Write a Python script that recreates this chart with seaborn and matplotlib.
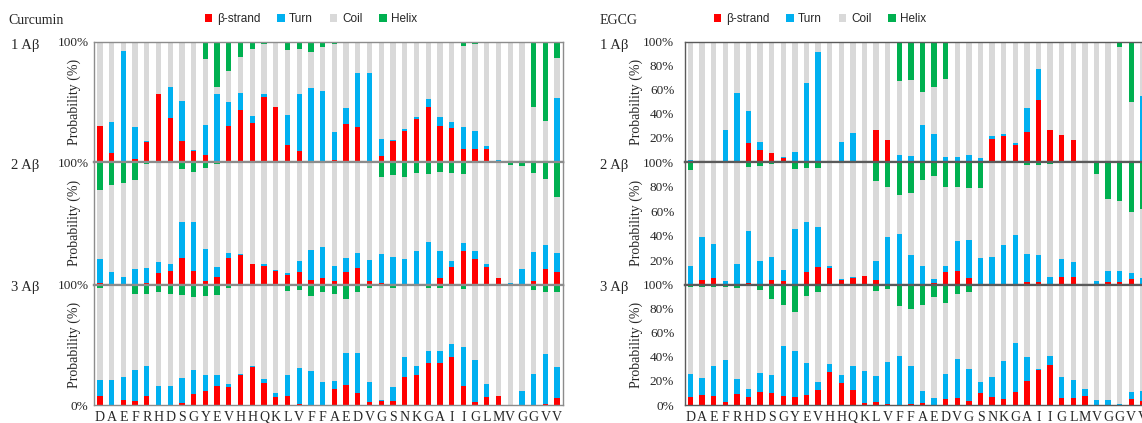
import numpy as np
import pandas as pd
import matplotlib
matplotlib.use("Agg")
import matplotlib.pyplot as plt
from matplotlib.patches import Patch
import seaborn as sns

residues = list("DAEFRHDSGYEVHHQKLVFFAEDVGSNKGAIIGLMVGGVV")

# ---------------- Curcumin ----------------
cur1_strand = [30, 7.5, 0, 2.5, 16.4, 56.5, 37, 17.8, 9.2, 5.6, 0, 29.8, 43.7, 32.3, 53.8, 46, 14.5, 8.9, 0, 0,
               1.4, 32, 29, 0, 5.3, 17.3, 25.6, 35.7, 45.7, 30, 28, 11, 10.6, 10.6, 0, 0, 0, 0, 0, 0]
cur1_turn = [0, 25.5, 92.5, 26.5, 1, 0, 25.7, 33, 1, 25, 57, 20.6, 13.7, 6.1, 2.7, 0, 24.5, 47.4, 62, 59.3,
             23.4, 13, 45.4, 73.8, 13.9, 1.1, 2, 1.9, 6.7, 7.6, 5, 18.5, 15, 2.4, 2, 0, 0, 0, 0, 53]
cur1_helix = [0, 0, 0, 0, 0, 0, 0.5, 0.5, 0.5, 14.5, 37.3, 24.2, 12.5, 6, 2, 0, 7, 6, 8.4, 4,
              1.5, 0.5, 0.5, 0, 0, 0, 0, 0, 0, 0.5, 1, 3, 2, 0.5, 0, 0, 0, 54, 66, 13.4]

cur2_strand = [1, 0.8, 0, 0.5, 1.4, 9.5, 10.9, 21.5, 11, 2.7, 6.3, 21.5, 24.2, 16.6, 15.2, 11, 7.9, 10.6, 3.3, 4.9,
               3, 10.3, 13.6, 3, 1, 0.8, 0.5, 0, 0.5, 4.9, 14.4, 27.7, 20.7, 14.1, 5.2, 0, 0, 3, 12.5, 9.8]
cur2_turn = [20, 9.2, 6, 12, 12.2, 9, 5.9, 29.5, 40.4, 26.6, 7.7, 4, 0.5, 0, 1.4, 1, 1.3, 8.7, 24.7, 26.1,
             11.7, 11.4, 12.4, 17.4, 23.5, 21.5, 20.2, 27.2, 34, 22.5, 4.4, 6.5, 6.7, 2.7, 0, 1.4, 13, 23.6, 20.1, 15.7]
cur2_helix = [22.6, 18.5, 17.1, 14.7, 2, 0, 0, 5.4, 8.2, 5.2, 1.4, 0, 0, 0, 0, 0, 0, 0, 0, 0,
              0, 0, 0.5, 0, 12, 10.3, 12.5, 8.7, 9.5, 8.2, 9.2, 9.8, 0, 0, 0, 2.5, 3, 8.7, 14, 28.5]

cur3_strand = [7.5, 0, 4.1, 3.3, 7.2, 0, 0, 1.4, 8.8, 11.3, 16, 15.2, 24.9, 31.5, 18.2, 6.6, 7.2, 0.5, 0, 0,
               13.5, 16.9, 10, 2.2, 3.3, 3.6, 23, 25, 34.5, 35, 40, 16, 2.8, 6.4, 7.7, 0, 0, 0, 1, 5.5]
cur3_turn = [12.9, 21, 19.1, 25.4, 24.8, 16, 16, 20.6, 19.9, 13.7, 9, 2.5, 1.1, 1.1, 3.6, 3.6, 17.8, 29.9, 28.2, 18.8,
             6.4, 26.5, 33, 17.1, 1.1, 11.4, 16.5, 7.3, 10.5, 10, 10.8, 32, 34.2, 10.7, 0, 0, 11.9, 26, 41.5, 26]
cur3_helix = [3, 1, 0.5, 8, 7.7, 6.6, 7.5, 9, 10, 9.7, 8.3, 2.5, 0, 0, 0, 0, 5.2, 4.7, 9.7, 6.4,
              7.5, 12.2, 6.6, 2.8, 0.5, 2.8, 0.5, 0, 3.3, 3.3, 0, 4.1, 0.5, 0, 0, 0, 0, 4.4, 6, 6.3]

# ---------------- EGCG ----------------
egc1_strand = [0, 0, 0, 0, 0, 16, 10, 7.6, 3.6, 0, 0, 0, 0, 0, 0, 0, 26.6, 18.7, 0, 0,
               0, 0, 0, 0, 0, 0, 19.5, 22, 14.2, 25, 51.8, 27, 22.8, 18.1, 0, 0, 0, 0, 0, 0]
egc1_turn = [2, 0, 0, 26.6, 57.7, 26.9, 6.8, 0, 0.9, 8.1, 65.5, 91.3, 0, 16.5, 24, 0, 0, 0, 6.1, 5.3,
             30.6, 23.1, 4.2, 4.2, 5.8, 3, 1.9, 1.4, 1.4, 19.8, 25.9, 0, 0, 0, 0, 0, 0, 0, 0, 55]
egc1_helix = [0, 0, 0, 0, 0, 0, 0, 0, 0, 0, 0, 0, 0, 0, 0, 0, 0, 0, 32.3, 31.8,
              41.5, 37.3, 31.2, 0, 0, 0, 0, 0, 0, 0, 0, 0, 0, 0, 0, 0, 0, 4, 49.9, 0]

egc2_strand = [0, 4, 5.6, 0, 0.8, 1.6, 0, 3.8, 3.2, 0, 10.2, 14, 13.4, 3.8, 5.4, 7, 3.8, 0, 0, 0,
               0, 1, 10.2, 11.3, 5.1, 0.8, 0, 0, 0, 2.2, 2.4, 0.8, 6.5, 6.5, 0, 0, 1.9, 2.4, 4.6, 0]
egc2_turn = [15.3, 34.7, 27.7, 2.7, 15.6, 41.9, 19.4, 18.8, 8.9, 45.2, 40.6, 33, 1.4, 0.8, 0.8, 0, 15.6, 38.4, 40.9, 24.2,
             15.3, 3.6, 5.1, 24.5, 30.9, 20.7, 22.6, 32.5, 40.3, 22.3, 21.8, 5.7, 14.2, 11.5, 0, 2.7, 8.9, 8.4, 5.1, 5]
egc2_helix = [6.5, 0.5, 0.5, 0, 0.5, 4, 3, 2, 0, 5.4, 4.8, 5.1, 0, 0, 0, 0, 15.6, 20.7, 26.6, 25.5,
              14.8, 11.8, 20.7, 20.7, 21.5, 21.2, 0, 0, 0, 2.7, 2.7, 1.6, 0, 0, 0, 9.4, 30.4, 32, 40.6, 38]

egc3_strand = [7, 8.4, 7.6, 2.8, 9.3, 6.5, 10.4, 9.6, 7.3, 7, 8.7, 12.4, 27.2, 18.3, 12.6, 2, 2.8, 0.8, 0, 1,
               1.4, 0, 5, 5.6, 3.6, 10.1, 6.7, 5, 10.7, 19.7, 28.7, 33.1, 6.2, 6.2, 7.3, 0, 0, 0, 4.8, 3]
egc3_turn = [18.6, 13.8, 24.7, 34.6, 12, 7, 16.3, 15.7, 41.3, 38.2, 25.9, 6.7, 7.1, 6.4, 20, 26.1, 21.1, 34.6, 41, 31.6,
             10.4, 6.2, 20.6, 32.6, 25.9, 9.3, 16.9, 31.2, 40.4, 20.2, 1.1, 7.6, 16.8, 14.6, 5.9, 4.5, 4.2, 1.1, 5.9, 9]
egc3_helix = [2, 2.2, 2.2, 2.2, 2.8, 0.5, 4.8, 12.4, 17.4, 22.5, 9.6, 5.9, 0, 0, 0, 0, 5.3, 4, 18, 20.2,
              16.9, 10.7, 15.2, 7.9, 6.5, 0.5, 0, 0, 0, 0, 0, 0, 0, 0, 0, 0, 0, 0, 0, 0]

panels = {
    "Curcumin": [(cur1_strand, cur1_turn, cur1_helix),
                 (cur2_strand, cur2_turn, cur2_helix),
                 (cur3_strand, cur3_turn, cur3_helix)],
    "EGCG": [(egc1_strand, egc1_turn, egc1_helix),
             (egc2_strand, egc2_turn, egc2_helix),
             (egc3_strand, egc3_turn, egc3_helix)],
}
row_labels = ["1 A\u03b2", "2 A\u03b2", "3 A\u03b2"]
legend_labels = ["\u03b2-strand", "Turn", "Coil", "Helix"]

C_STRAND, C_TURN, C_COIL, C_HELIX = "#FF0000", "#00B0F0", "#D9D9D9", "#00B050"

sns.set_style("white")
plt.rcParams["font.family"] = ["Liberation Serif", "DejaVu Serif"]

W, H = 1142, 423
fig = plt.figure(figsize=(W / 100, H / 100), dpi=100)

rows_px = [(42, 162), (162, 284.5), (284.5, 405)]
panel_geo = {
    "Curcumin": dict(x0=94, w=469, title_x=8, lab_x=11, ylab_x=-0.027, tick_pad=4.0,
                     spine="#8c8c8c", full_ticks=False, leg_x=311),
    "EGCG": dict(x0=684.7, w=464, title_x=600, lab_x=600, ylab_x=-0.089, tick_pad=7.5,
                 spine="#5a5a5a", full_ticks=True, leg_x=820),
}

pos = np.arange(len(residues))
for name, subs in panels.items():
    g = panel_geo[name]
    for r, (strand, turn, helix) in enumerate(subs):
        top, bot = rows_px[r]
        ax = fig.add_axes([g["x0"] / W, 1 - bot / H, g["w"] / W, (bot - top) / H])
        df = pd.DataFrame({"pos": pos, "strand": strand, "turn": turn, "helix": helix})
        df["coil"] = (100 - df["strand"] - df["turn"] - df["helix"]).clip(lower=0)
        df["lvl_turn"] = df["strand"] + df["turn"]
        df["lvl_coil"] = df["lvl_turn"] + df["coil"]
        df["lvl_helix"] = df["lvl_coil"] + df["helix"]
        for col, color in [("lvl_helix", C_HELIX), ("lvl_coil", C_COIL),
                           ("lvl_turn", C_TURN), ("strand", C_STRAND)]:
            sns.barplot(data=df, x="pos", y=col, color=color, saturation=1,
                        width=0.45, errorbar=None, linewidth=0, ax=ax)
        ax.set_xlim(-0.5, len(residues) - 0.5)
        ax.set_ylim(0, 100)
        ax.set_xlabel("")
        ax.set_ylabel("Probability (%)", fontsize=10)
        ax.yaxis.set_label_coords(g["ylab_x"], 0.5)
        ticks = [0, 20, 40, 60, 80, 100]
        ax.set_yticks(ticks)
        if g["full_ticks"]:
            labs = [f"{t}%" for t in ticks]
        else:
            labs = ["" if t not in (0, 100) else f"{t}%" for t in ticks]
        if r < 2:
            labs[0] = ""
        ax.set_yticklabels(labs, fontsize=9.5)
        ax.tick_params(axis="y", length=0, pad=g["tick_pad"])
        if r == 2:
            ax.set_xticks(pos)
            ax.set_xticklabels(residues, fontsize=10)
            ax.tick_params(axis="x", length=0, pad=4)
        else:
            ax.set_xticks([])
        for sp in ax.spines.values():
            sp.set_visible(True)
            sp.set_color(g["spine"])
            sp.set_linewidth(1.0)
        if r < 2:
            ax.spines["bottom"].set_linewidth(1.6)
        if r > 0:
            ax.spines["top"].set_linewidth(1.6)
        fig.text(g["lab_x"] / W, 1 - (top + 3) / H, row_labels[r], ha="left", va="center", fontsize=10.5)
    fig.text(g["title_x"] / W, 1 - 20 / H, name, ha="left", va="center", fontsize=10)
    handles = [Patch(facecolor=c, edgecolor="none") for c in (C_STRAND, C_TURN, C_COIL, C_HELIX)]
    fig.legend(handles, legend_labels, loc="center", bbox_to_anchor=(g["leg_x"] / W, 1 - 19 / H),
               ncol=4, frameon=False, handlelength=0.65, handleheight=0.65, handletextpad=0.4,
               columnspacing=1.4, prop={"family": ["Liberation Sans", "DejaVu Sans"], "size": 8.5})

fig.savefig("out.png", dpi=100)
